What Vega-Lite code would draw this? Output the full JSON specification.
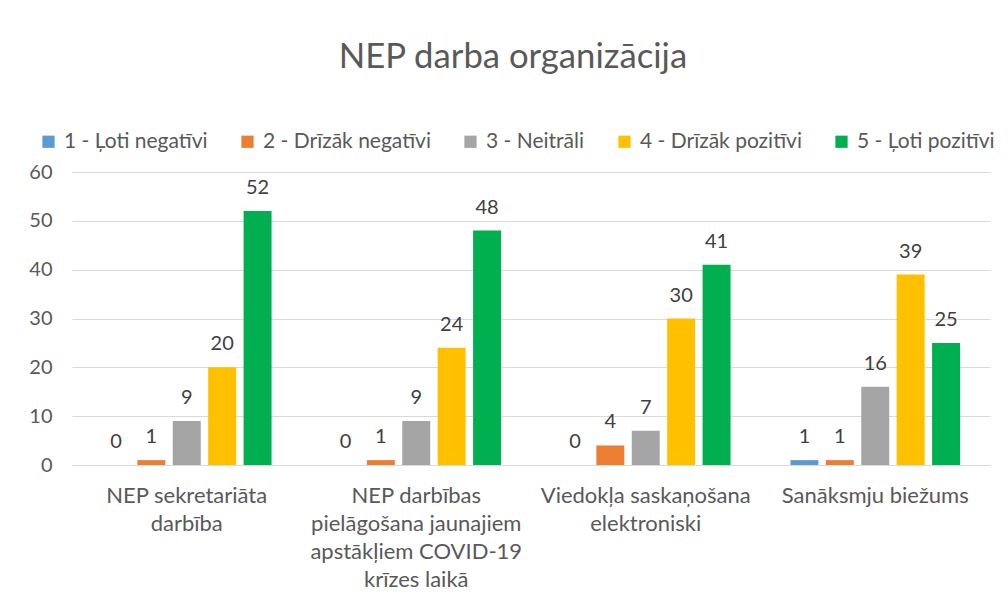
{
  "$schema": "https://vega.github.io/schema/vega-lite/v6.json",
  "autosize": "none",
  "width": 918,
  "height": 293,
  "padding": {"left": 72, "top": 172, "right": 18, "bottom": 141},
  "background": "white",
  "title": {
    "text": "NEP darba organizācija",
    "font": "Lato",
    "fontSize": 34.7,
    "fontWeight": "normal",
    "color": "#595959",
    "anchor": "middle",
    "frame": "group",
    "dx": -18,
    "offset": 55
  },
  "config": {
    "view": {"stroke": null},
    "font": "Lato"
  },
  "data": {
    "values": [
      {"cat": "NEP sekretariāta darbība", "rating": "1 - Ļoti negatīvi", "value": 0},
      {"cat": "NEP sekretariāta darbība", "rating": "2 - Drīzāk negatīvi", "value": 1},
      {"cat": "NEP sekretariāta darbība", "rating": "3 - Neitrāli", "value": 9},
      {"cat": "NEP sekretariāta darbība", "rating": "4 - Drīzāk pozitīvi", "value": 20},
      {"cat": "NEP sekretariāta darbība", "rating": "5 - Ļoti pozitīvi", "value": 52},
      {"cat": "NEP darbības pielāgošana jaunajiem apstākļiem COVID-19 krīzes laikā", "rating": "1 - Ļoti negatīvi", "value": 0},
      {"cat": "NEP darbības pielāgošana jaunajiem apstākļiem COVID-19 krīzes laikā", "rating": "2 - Drīzāk negatīvi", "value": 1},
      {"cat": "NEP darbības pielāgošana jaunajiem apstākļiem COVID-19 krīzes laikā", "rating": "3 - Neitrāli", "value": 9},
      {"cat": "NEP darbības pielāgošana jaunajiem apstākļiem COVID-19 krīzes laikā", "rating": "4 - Drīzāk pozitīvi", "value": 24},
      {"cat": "NEP darbības pielāgošana jaunajiem apstākļiem COVID-19 krīzes laikā", "rating": "5 - Ļoti pozitīvi", "value": 48},
      {"cat": "Viedokļa saskaņošana elektroniski", "rating": "1 - Ļoti negatīvi", "value": 0},
      {"cat": "Viedokļa saskaņošana elektroniski", "rating": "2 - Drīzāk negatīvi", "value": 4},
      {"cat": "Viedokļa saskaņošana elektroniski", "rating": "3 - Neitrāli", "value": 7},
      {"cat": "Viedokļa saskaņošana elektroniski", "rating": "4 - Drīzāk pozitīvi", "value": 30},
      {"cat": "Viedokļa saskaņošana elektroniski", "rating": "5 - Ļoti pozitīvi", "value": 41},
      {"cat": "Sanāksmju biežums", "rating": "1 - Ļoti negatīvi", "value": 1},
      {"cat": "Sanāksmju biežums", "rating": "2 - Drīzāk negatīvi", "value": 1},
      {"cat": "Sanāksmju biežums", "rating": "3 - Neitrāli", "value": 16},
      {"cat": "Sanāksmju biežums", "rating": "4 - Drīzāk pozitīvi", "value": 39},
      {"cat": "Sanāksmju biežums", "rating": "5 - Ļoti pozitīvi", "value": 25}
    ]
  },
  "encoding": {
    "x": {
      "field": "cat",
      "type": "nominal",
      "sort": null,
      "scale": {"paddingInner": 0.23, "paddingOuter": 0.115},
      "axis": {
        "title": null,
        "labelAngle": 0,
        "ticks": false,
        "domain": true,
        "domainColor": "#D9D9D9",
        "domainWidth": 1,
        "labelFontSize": 22,
        "labelColor": "#595959",
        "labelPadding": 20,
        "labelLineHeight": 28,
        "labelLimit": 300,
        "labelExpr": "datum.value == 'NEP sekretariāta darbība' ? ['NEP sekretariāta', 'darbība'] : datum.value == 'NEP darbības pielāgošana jaunajiem apstākļiem COVID-19 krīzes laikā' ? ['NEP darbības', 'pielāgošana jaunajiem', 'apstākļiem COVID-19', 'krīzes laikā'] : datum.value == 'Viedokļa saskaņošana elektroniski' ? ['Viedokļa saskaņošana', 'elektroniski'] : datum.value"
      }
    },
    "xOffset": {
      "field": "rating",
      "type": "nominal",
      "scale": {"paddingInner": 0.21, "paddingOuter": 0.1}
    },
    "y": {
      "field": "value",
      "type": "quantitative",
      "scale": {"domain": [0, 60], "nice": false},
      "axis": {
        "title": null,
        "values": [0, 10, 20, 30, 40, 50, 60],
        "labelOverlap": false,
        "ticks": false,
        "domain": false,
        "gridColor": "#D9D9D9",
        "gridWidth": 1,
        "labelFontSize": 20,
        "labelColor": "#595959",
        "labelPadding": 20
      }
    }
  },
  "layer": [
    {
      "mark": {"type": "bar"},
      "encoding": {
        "color": {
          "field": "rating",
          "type": "nominal",
          "scale": {
            "domain": ["1 - Ļoti negatīvi", "2 - Drīzāk negatīvi", "3 - Neitrāli", "4 - Drīzāk pozitīvi", "5 - Ļoti pozitīvi"],
            "range": ["#5B9BD5", "#ED7D31", "#A5A5A5", "#FFC000", "#00B050"]
          },
          "legend": {
            "title": null,
            "orient": "none",
            "direction": "horizontal",
            "columns": 5,
            "legendX": -34,
            "legendY": -41,
            "symbolType": "square",
            "symbolSize": 150,
            "symbolStrokeWidth": 0,
            "labelFontSize": 21,
            "labelColor": "#595959",
            "labelOffset": 5,
            "columnPadding": 29,
            "labelLimit": 300
          }
        }
      }
    },
    {
      "mark": {"type": "text", "dy": -17, "fontSize": 20, "color": "#404040", "baseline": "alphabetic"},
      "encoding": {
        "text": {"field": "value", "type": "quantitative"}
      }
    }
  ]
}
